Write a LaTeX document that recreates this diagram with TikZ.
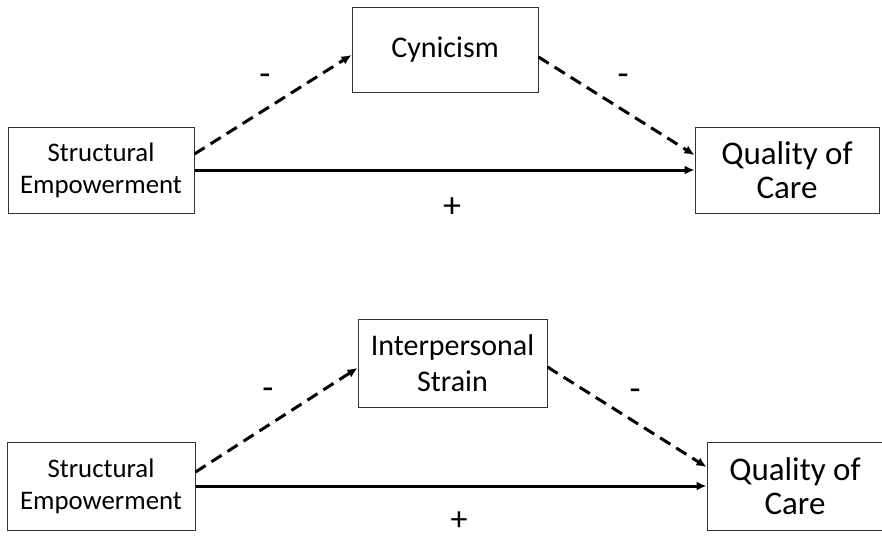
\documentclass[tikz,border=0pt]{standalone}
\usepackage{fontspec}
\setmainfont{Carlito}
\usetikzlibrary{arrows.meta}
\begin{document}
\begin{tikzpicture}[x=1pt,y=-1pt,
  box/.style={draw=black!80,line width=1pt,rectangle,align=center,inner sep=0pt},
  sebox/.style={box,minimum width=186pt,minimum height=86pt,font=\fontsize{26.8}{32}\selectfont},
  medbox/.style={box,font=\fontsize{30}{36}\selectfont},
  qbox/.style={box,font=\fontsize{33}{34}\selectfont},
  direct/.style={line width=3pt,-{Latex[length=10pt,width=9pt]}},
  indirect/.style={line width=3pt,dash pattern=on 12pt off 7pt,-{Latex[length=10pt,width=9pt]}},
  sign/.style={font=\fontsize{36}{36}\selectfont,inner sep=0pt}]
\useasboundingbox (0,0) rectangle (882,538);
% top model
\node[sebox] (se1) at (101,170) {Structural\\Empowerment};
\node[medbox,minimum width=186pt,minimum height=85pt] (cyn) at (445,49.5) {Cynicism};
\node[qbox,minimum width=184pt,minimum height=86pt] (qoc1) at (787,170) {Quality of\\Care};
\draw[direct] (se1.east) -- (qoc1.west);
\draw[indirect] ([yshift=16pt]se1.east) -- ([yshift=-5.5pt]cyn.west);
\draw[indirect] ([yshift=-7.5pt]cyn.east) -- ([yshift=15pt]qoc1.west);
\node[sign] (m1) at (265,80) {-};
\node[sign] (m2) at (623,80) {-};
\node[sign] (p1) at (452,208) {+};
% bottom model
\node[sebox,minimum width=188pt,minimum height=88pt] (se2) at (101,486) {Structural\\Empowerment};
\node[medbox,minimum width=189pt,minimum height=88pt] (is) at (452.5,363) {Interpersonal\\Strain};
\node[qbox,minimum width=176pt,minimum height=88pt] (qoc2) at (795,486) {Quality of\\Care};
\draw[direct] (se2.east) -- (qoc2.west);
\draw[indirect] ([yshift=14pt]se2.east) -- ([yshift=-5pt]is.west);
\draw[indirect] ([yshift=-4pt]is.east) -- ([yshift=19pt]qoc2.west);
\node[sign] (m3) at (268,394) {-};
\node[sign] (m4) at (635,395) {-};
\node[sign,font=\fontsize{34}{34}\selectfont] (p2) at (459,521) {+};
\end{tikzpicture}
\end{document}
